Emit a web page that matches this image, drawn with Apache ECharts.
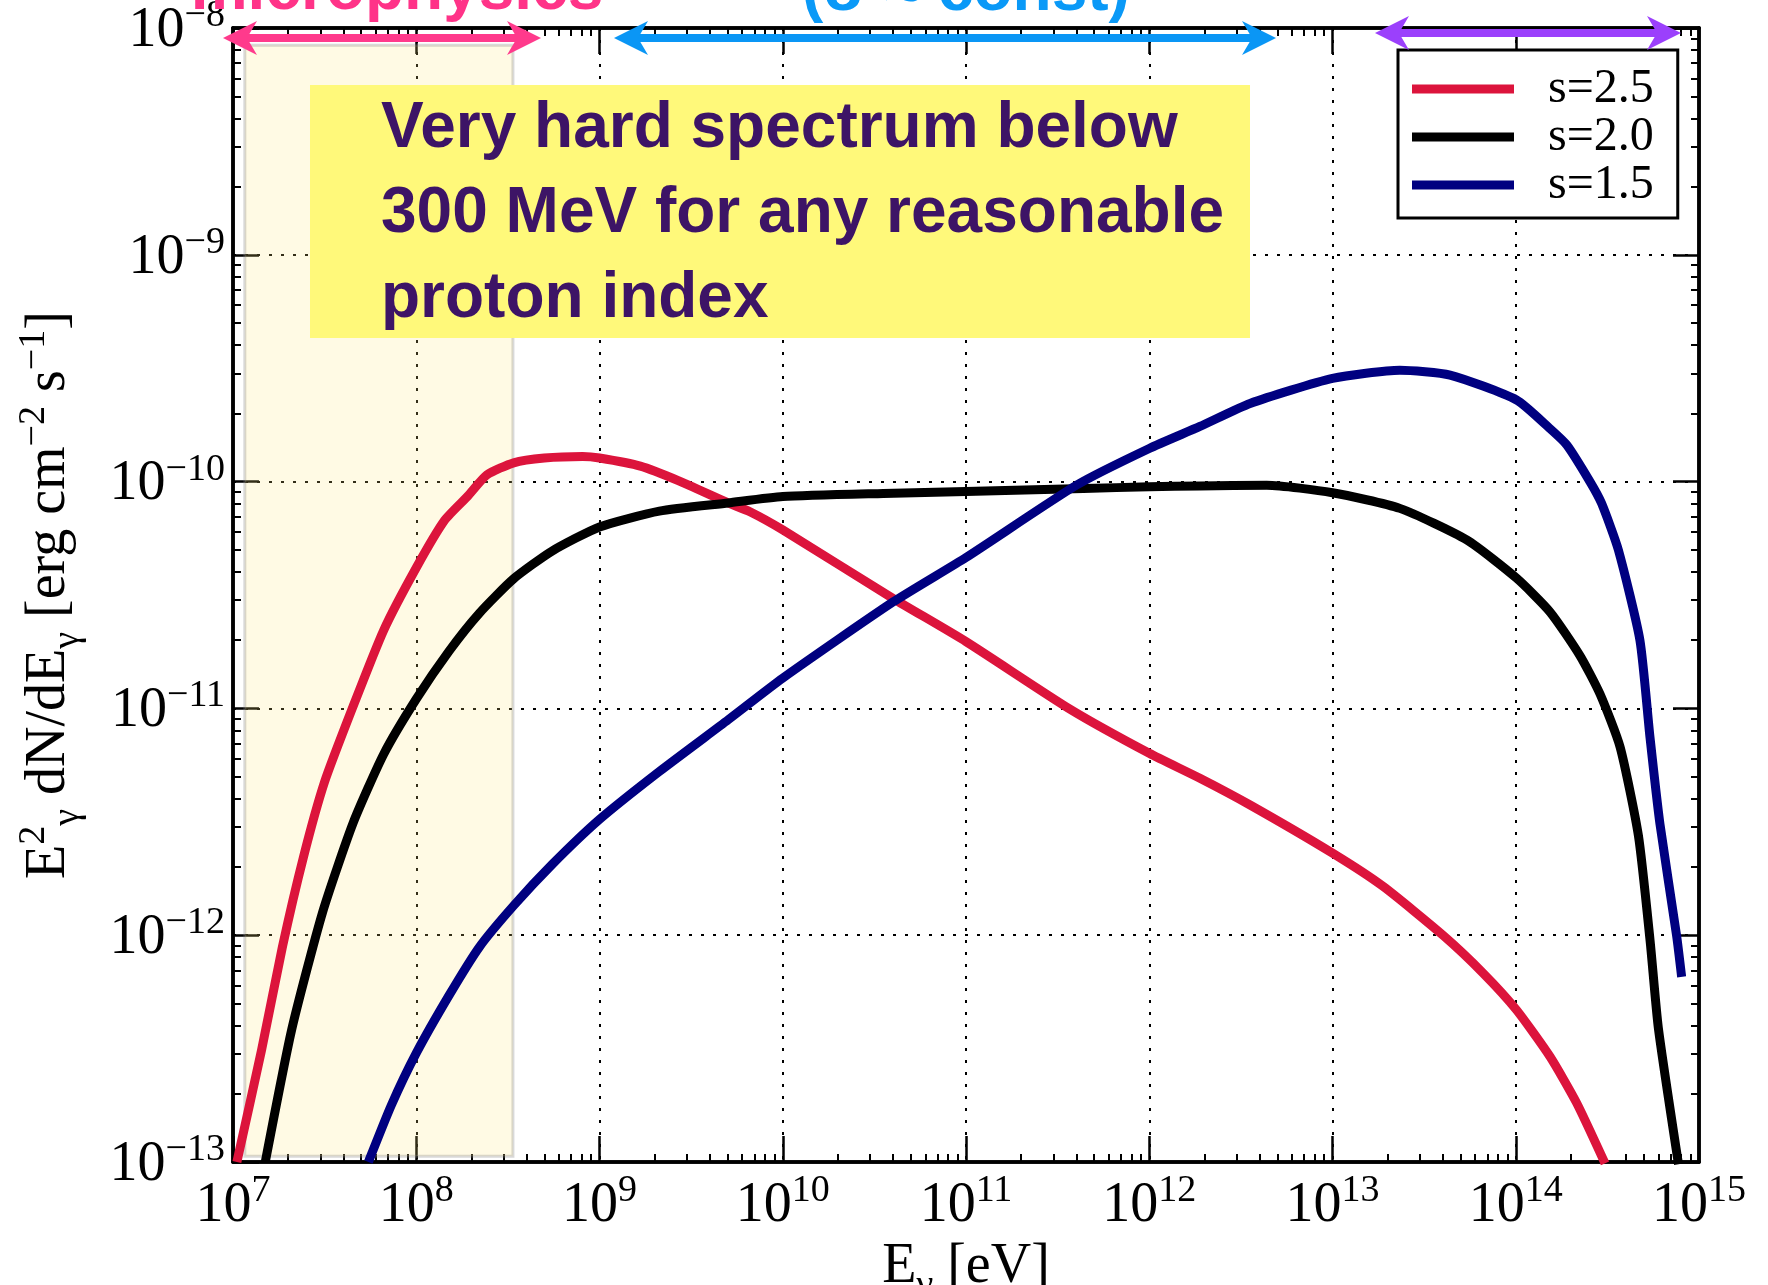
<!DOCTYPE html>
<html>
<head>
<meta charset="utf-8">
<script src="https://cdn.jsdelivr.net/npm/echarts@6/dist/echarts.min.js"></script>
<style>
  html, body { margin: 0; padding: 0; background: #fff; }
  #chart { width: 1768px; height: 1285px; }
</style>
</head>
<body>
<div id="chart"></div>
<script>
// Gamma-ray spectra E^2 dN/dE (erg cm^-2 s^-1) versus photon energy (eV)
// for three proton spectral indices s.
const energyS25 = [1.05e7, 1.43e7, 1.86e7, 2.42e7, 3.16e7, 4.52e7, 6.64e7, 1.0e8, 1.43e8, 1.91e8, 2.43e8, 3.40e8, 5.0e8, 8.09e8, 1.0e9, 1.67e9, 2.69e9, 5.04e9, 6.62e9, 1.0e10, 4.01e10, 1.0e11, 3.69e11, 1.0e12, 1.89e12, 3.55e12, 1.0e13, 1.89e13, 4.03e13, 6.65e13, 1.01e14, 1.54e14, 2.15e14, 3.07e14];
const fluxS25   = [1.0e-13, 3.10e-13, 8.87e-13, 2.20e-12, 4.74e-12, 1.02e-11, 2.21e-11, 4.17e-11, 6.76e-11, 8.63e-11, 1.07e-10, 1.21e-10, 1.27e-10, 1.29e-10, 1.27e-10, 1.17e-10, 1.01e-10, 8.05e-11, 7.36e-11, 6.12e-11, 3.05e-11, 1.97e-11, 9.93e-12, 6.34e-12, 4.92e-12, 3.75e-12, 2.30e-12, 1.64e-12, 9.95e-13, 6.79e-13, 4.68e-13, 2.91e-13, 1.82e-13, 9.86e-14];

const energyS20 = [1.5e7, 2.09e7, 3.08e7, 4.52e7, 6.64e7, 1.0e8, 1.51e8, 2.21e8, 3.40e8, 5.51e8, 1.0e9, 2.12e9, 5.04e9, 1.0e10, 3.54e10, 1.0e11, 4.37e11, 1.0e12, 1.89e12, 4.38e12, 1.0e13, 2.33e13, 5.40e13, 1.01e14, 1.54e14, 2.24e14, 2.88e14, 3.71e14, 4.67e14, 5.41e14, 6.0e14, 7.73e14];
const fluxS20   = [1.0e-13, 3.83e-13, 1.26e-12, 3.12e-12, 6.28e-12, 1.10e-11, 1.79e-11, 2.63e-11, 3.73e-11, 4.94e-11, 6.31e-11, 7.41e-11, 8.05e-11, 8.59e-11, 8.87e-11, 9.04e-11, 9.33e-11, 9.48e-11, 9.57e-11, 9.64e-11, 8.93e-11, 7.62e-11, 5.53e-11, 3.75e-11, 2.66e-11, 1.71e-11, 1.16e-11, 6.76e-12, 2.75e-12, 9.44e-13, 3.90e-13, 9.77e-14];

const energyS15 = [5.48e7, 7.31e7, 1.0e8, 1.51e8, 2.21e8, 3.40e8, 5.51e8, 1.0e9, 2.12e9, 5.04e9, 1.0e10, 4.01e10, 1.0e11, 4.02e11, 1.0e12, 1.89e12, 3.55e12, 1.0e13, 2.33e13, 4.38e13, 1.01e14, 1.54e14, 1.90e14, 2.54e14, 2.94e14, 3.63e14, 4.76e14, 5.40e14, 6.12e14, 7.55e14, 8.04e14];
const fluxS15   = [1.0e-13, 1.78e-13, 3.02e-13, 5.43e-13, 8.87e-13, 1.35e-12, 2.05e-12, 3.24e-12, 5.27e-12, 8.91e-12, 1.36e-11, 2.95e-11, 4.63e-11, 9.66e-11, 1.40e-10, 1.75e-10, 2.21e-10, 2.85e-10, 3.10e-10, 2.95e-10, 2.29e-10, 1.71e-10, 1.45e-10, 1.0e-10, 8.02e-11, 5.0e-11, 2.0e-11, 7.48e-12, 3.10e-12, 9.93e-13, 6.55e-13];

const seriesNames = ['s=2.5', 's=2.0', 's=1.5'];
const seriesColors = ['#dc143c', '#000000', '#000080'];

// Decade ticks (labelled) and the 2..9 sub-decade ticks
const xMajor = [1e7, 1e8, 1e9, 1e10, 1e11, 1e12, 1e13, 1e14, 1e15];
const yMajor = [1e-13, 1e-12, 1e-11, 1e-10, 1e-9, 1e-8];
const minorMult = [2, 3, 4, 5, 6, 7, 8, 9];

// Low-energy band where the spectrum is set by the microphysics
const shadeEnergy = [1.16e7, 3.37e8];
const shadeFlux = [1.06e-13, 8.4e-9];

function minorValues(major) {
  const out = [];
  for (let i = 0; i < major.length - 1; i++) {
    for (const m of minorMult) out.push(m * major[i]);
  }
  return out;
}

function zip(xs, ys) { return xs.map((x, i) => [x, ys[i]]); }

const serif = '"Liberation Serif", "Times New Roman", serif';
const sans = '"Liberation Sans", Arial, Helvetica, sans-serif';

const labelRich = {
  b: { fontFamily: serif, fontSize: 56, color: '#000', verticalAlign: 'bottom', lineHeight: 62 },
  s: { fontFamily: serif, fontSize: 38, color: '#000', verticalAlign: 'bottom', lineHeight: 38, padding: [0, 0, 24, 0] }
};
const nameRich = {
  b: { fontFamily: serif, fontSize: 56, color: '#000', verticalAlign: 'bottom', lineHeight: 56, padding: [0, 0, 10, 0] },
  sup: { fontFamily: serif, fontSize: 38, color: '#000', verticalAlign: 'bottom', lineHeight: 38, padding: [0, 0, 34, 0] },
  sub: { fontFamily: serif, fontSize: 38, color: '#000', verticalAlign: 'bottom', lineHeight: 38, padding: [0, 0, 0, 0] }
};

function powLabel(v) {
  const e = Math.round(Math.log10(v));
  return '{b|10}{s|' + (e < 0 ? '\u2212' + (-e) : String(e)) + '}';
}

function makeAxis(isX, position, role) {
  const major = isX ? xMajor : yMajor;
  return {
    type: 'log', logBase: 10, position,
    min: major[0], max: major[major.length - 1],
    silent: true,
    axisLine: { show: true, onZero: false, lineStyle: { color: '#000', width: 3.5 } },
    axisTick: {
      show: true, inside: true,
      length: role === 'major' ? 26 : 8,
      lineStyle: { color: '#000', width: role === 'major' ? 2.5 : 2 },
      customValues: role === 'major' ? major : minorValues(major)
    },
    axisLabel: { show: false },
    splitLine: { show: false },
    minorTick: { show: false },
    minorSplitLine: { show: false },
    axisPointer: { show: false }
  };
}

const gridLineStyle = { color: '#000', type: [3, 9], width: 2 };

const xBottom = makeAxis(true, 'bottom', 'major');
xBottom.axisLabel = {
  show: true, formatter: powLabel, rich: labelRich,
  margin: 10, hideOverlap: false, showMinLabel: true, showMaxLabel: true
};
xBottom.splitLine = { show: true, lineStyle: gridLineStyle };
xBottom.name = '{b|E}{sub|\u03b3}{b| [eV]}';
xBottom.nameLocation = 'middle';
xBottom.nameGap = 78;
xBottom.nameTextStyle = { rich: nameRich };

const yLeft = makeAxis(false, 'left', 'major');
yLeft.axisLabel = {
  show: true, formatter: powLabel, rich: labelRich,
  margin: 8, hideOverlap: false, showMinLabel: true, showMaxLabel: true
};
yLeft.splitLine = { show: true, lineStyle: gridLineStyle };
yLeft.name = '{b|E}{sup|2}{sub|\u03b3}{b| dN/dE}{sub|\u03b3}{b| [erg cm}{sup|\u22122}{b| s}{sup|\u22121}{b|]}';
yLeft.nameLocation = 'middle';
yLeft.nameRotate = 90;
yLeft.nameGap = 146;
yLeft.nameTextStyle = { rich: nameRich };

const xAxes = [xBottom, makeAxis(true, 'bottom', 'minor'), makeAxis(true, 'top', 'major'), makeAxis(true, 'top', 'minor')];
const yAxes = [yLeft, makeAxis(false, 'left', 'minor'), makeAxis(false, 'right', 'major'), makeAxis(false, 'right', 'minor')];

const curveData = [zip(energyS25, fluxS25), zip(energyS20, fluxS20), zip(energyS15, fluxS15)];

const series = seriesNames.map((name, i) => ({
  name, type: 'line', data: curveData[i],
  xAxisIndex: 0, yAxisIndex: 0,
  showSymbol: false, symbol: 'none',
  smooth: 0.2,
  color: seriesColors[i],
  itemStyle: { color: seriesColors[i] },
  lineStyle: { color: seriesColors[i], width: 9, join: 'round' },
  z: 2, clip: true, silent: true
}));

// Translucent band laid over the curves
series.push({
  name: 'band', type: 'line', data: [], xAxisIndex: 0, yAxisIndex: 0,
  z: 5, silent: true,
  markArea: {
    silent: true,
    itemStyle: { color: 'rgba(255,232,120,0.2)', borderColor: 'rgba(130,130,130,0.3)', borderWidth: 3 },
    data: [[{ coord: [shadeEnergy[0], shadeFlux[1]] }, { coord: [shadeEnergy[1], shadeFlux[0]] }]]
  }
});

function doubleArrow(x1, x2, y, color) {
  const hl = 34, hh = 17, notch = 24;
  return [
    { type: 'rect', z: 60, silent: true, shape: { x: x1 + notch, y: y - 4, width: x2 - x1 - 2 * notch, height: 8 }, style: { fill: color } },
    { type: 'polygon', z: 60, silent: true, shape: { points: [[x1, y], [x1 + hl, y - hh], [x1 + notch, y], [x1 + hl, y + hh]] }, style: { fill: color } },
    { type: 'polygon', z: 60, silent: true, shape: { points: [[x2, y], [x2 - hl, y - hh], [x2 - notch, y], [x2 - hl, y + hh]] }, style: { fill: color } }
  ];
}

const graphics = [
  // annotation box
  { type: 'rect', z: 50, silent: true, shape: { x: 310, y: 85, width: 940, height: 253 }, style: { fill: '#fff97a' } },
  { type: 'text', z: 51, silent: true, x: 381, y: 87,
    style: { text: 'Very hard spectrum below\n300 MeV for any reasonable\nproton index', font: 'bold 64px ' + sans, fill: '#3d1466', lineHeight: 85, verticalAlign: 'top', align: 'left' } },
  // range labels along the top edge
  { type: 'text', z: 60, silent: true, x: 397, y: -9,
    style: { text: 'microphysics', font: 'bold 64px ' + sans, fill: '#ff3388', align: 'center', verticalAlign: 'middle' } },
  { type: 'text', z: 60, silent: true, x: 966, y: -8,
    style: { text: '(\u03c3 \u2248 const)', font: 'bold 64px ' + sans, fill: '#0a99f7', align: 'center', verticalAlign: 'middle' } }
].concat(
  doubleArrow(223, 541, 38, '#ff3a8c'),
  doubleArrow(614, 1276, 38, '#0a96f5'),
  doubleArrow(1375, 1681, 33, '#9b40fc')
);

const chart = echarts.init(document.getElementById('chart'), null, { renderer: 'canvas' });
chart.setOption({
  animation: false,
  backgroundColor: '#fff',
  grid: { left: 233, right: 69, top: 28, bottom: 123, containLabel: false, outerBoundsMode: 'none' },
  xAxis: xAxes,
  yAxis: yAxes,
  legend: {
    data: seriesNames, orient: 'vertical', left: 1398, top: 50,
    padding: [15, 24, 9, 14], itemGap: 0, itemWidth: 102, itemHeight: 9, icon: 'rect',
    backgroundColor: '#fff', borderColor: '#000', borderWidth: 3, borderRadius: 0,
    textStyle: { fontFamily: serif, fontSize: 48, color: '#000', lineHeight: 48, padding: [0, 0, 0, 29] },
    selectedMode: false, z: 20
  },
  series,
  graphic: graphics
});
</script>
</body>
</html>
